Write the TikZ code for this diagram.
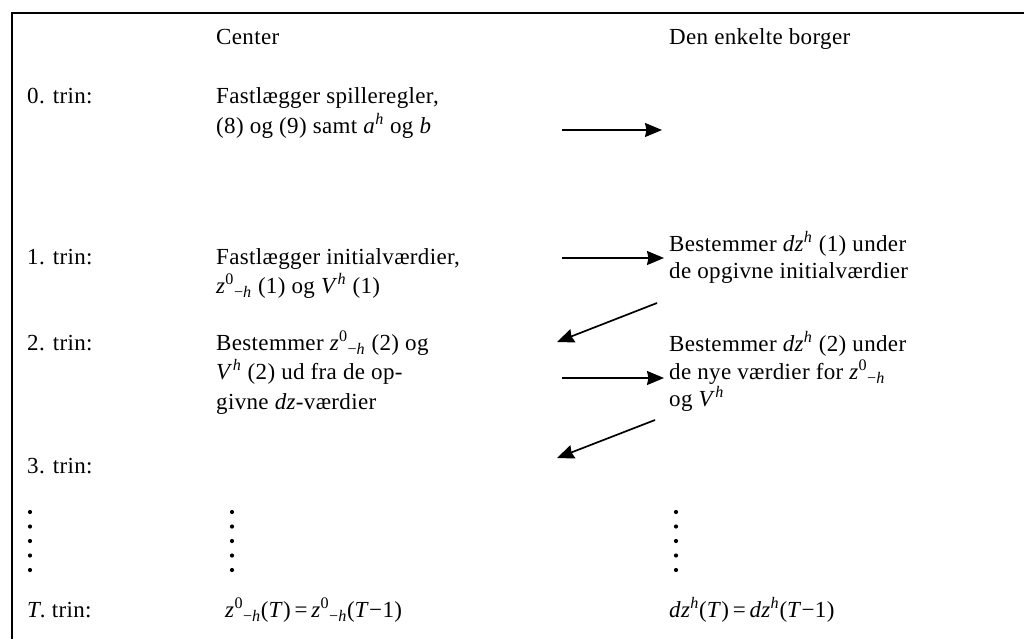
\documentclass[tikz,border=0pt]{standalone}
\usepackage{fontspec}
\setmainfont{Liberation Serif}[LetterSpace=1.5]
\usetikzlibrary{arrows.meta}
\newcommand{\zmh}{\textit{z}\textsuperscript{0}\textsubscript{\char"2212\textit{h}}}
\newcommand{\supit}[1]{\textsuperscript{\textit{#1}}}
\begin{document}
\begin{tikzpicture}[x=1pt,y=-1pt,
  lbl/.style={anchor=mid west, inner sep=0pt, yshift=-4pt, font=\fontsize{23}{29}\selectfont},
  arr/.style={line width=1.7pt, -{Stealth[length=17pt,width=14pt,inset=1.5pt]}},
  frame/.style={line width=2pt},
  vdot/.style={fill=black}]
\useasboundingbox (0,0) rectangle (1024,639);
\fill[white] (0,0) rectangle (1024,639);
\draw[frame] (1024,13) -- (12,13) -- (12,639);
% headers
\node[lbl] (hc) at (216,38) {Center};
\node[lbl] (hb) at (669,38) {Den enkelte borger};
% step labels
\node[lbl] (s0) at (27,97) {0. trin:};
\node[lbl] (s1) at (27,258) {1. trin:};
\node[lbl] (s2) at (27,344) {2. trin:};
\node[lbl] (s3) at (27,467) {3. trin:};
\node[lbl] (sT) at (27,611) {\textit{T}. trin:};
% center column
\node[lbl] (c0a) at (216,97) {Fastlægger spilleregler,};
\node[lbl] (c0b) at (216,127) {(8) og (9) samt \textit{a}\supit{h} og \textit{b}};
\node[lbl] (c1a) at (216,258) {Fastlægger initialværdier,};
\node[lbl] (c1b) at (216,287) {\zmh{} (1) og \textit{V}\supit{h} (1)};
\node[lbl] (c2a) at (216,344) {Bestemmer \zmh{} (2) og};
\node[lbl] (c2b) at (216,373) {\textit{V}\supit{h} (2) ud fra de op-};
\node[lbl] (c2c) at (216,403) {givne \textit{dz}-værdier};
\node[lbl] (cT) at (225,611) {\zmh(\textit{T})\,=\,\zmh(\textit{T}\char"2212 1)};
% citizen column
\node[lbl] (b1a) at (669,245) {Bestemmer \textit{dz}\supit{h} (1) under};
\node[lbl] (b1b) at (669,272) {de opgivne initialværdier};
\node[lbl] (b2a) at (669,345) {Bestemmer \textit{dz}\supit{h} (2) under};
\node[lbl] (b2b) at (669,373) {de nye værdier for \zmh};
\node[lbl] (b2c) at (669,400) {og \textit{V}\supit{h}};
\node[lbl] (bT) at (669,611) {\textit{dz}\supit{h}(\textit{T})\,=\,\textit{dz}\supit{h}(\textit{T}\char"2212 1)};
% arrows
\coordinate (a0s) at (562,130); \coordinate (a0e) at (662,130);
\coordinate (a1s) at (562,258); \coordinate (a1e) at (664,258);
\coordinate (d1s) at (657,303); \coordinate (d1e) at (557,342);
\coordinate (a2s) at (562,378); \coordinate (a2e) at (664,378);
\coordinate (d2s) at (655,420); \coordinate (d2e) at (557,458);
\draw[arr] (a0s) -- (a0e);
\draw[arr] (a1s) -- (a1e);
\draw[arr] (d1s) -- (d1e);
\draw[arr] (a2s) -- (a2e);
\draw[arr] (d2s) -- (d2e);
% vertical dots
\foreach \xx in {30,232,676}
  \foreach \i in {0,...,4}
    \fill[vdot] (\xx,512+14.5*\i) circle (2.1pt);
\end{tikzpicture}
\end{document}
